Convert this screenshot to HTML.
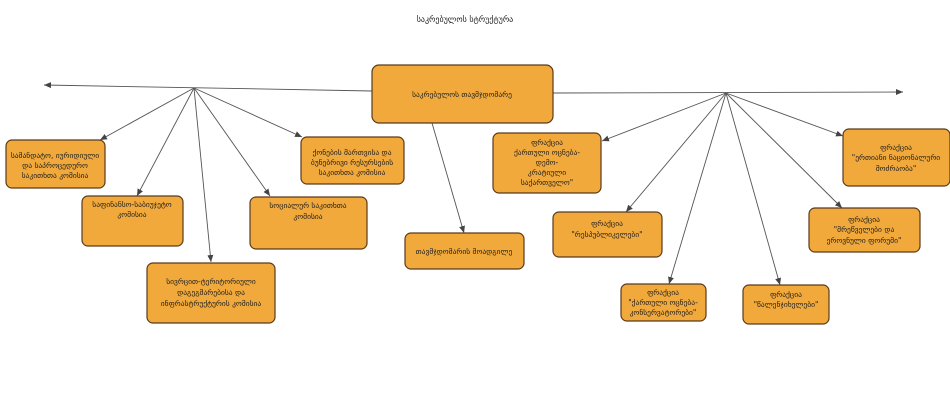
<!DOCTYPE html>
<html><head><meta charset="utf-8"><style>
body{margin:0;background:#fff}
text{font-family:"DejaVu Sans","Liberation Sans",sans-serif;font-size:7.5px;fill:#222;text-anchor:middle}
rect{fill:#f2a93b;stroke:#5a3a1c;stroke-width:1.2}
line{stroke:#555;stroke-width:0.9}
</style></head><body>
<svg width="950" height="400" viewBox="0 0 950 400" xmlns="http://www.w3.org/2000/svg">
<defs><marker id="a" markerWidth="8" markerHeight="8" refX="7" refY="4" orient="auto" markerUnits="userSpaceOnUse"><path d="M0,1 L7,4 L0,7z" fill="#444"/></marker></defs>
<text x="465" y="22" style="font-size:8px">საკრებულოს სტრუქტურა</text>
<line x1="372" y1="91" x2="44" y2="85" marker-end="url(#a)"/>
<line x1="553" y1="93" x2="903" y2="92" marker-end="url(#a)"/>
<line x1="194" y1="88" x2="100" y2="140" marker-end="url(#a)"/>
<line x1="194" y1="88" x2="137" y2="196" marker-end="url(#a)"/>
<line x1="194" y1="88" x2="211" y2="262" marker-end="url(#a)"/>
<line x1="194" y1="88" x2="270" y2="196" marker-end="url(#a)"/>
<line x1="194" y1="88" x2="302" y2="137" marker-end="url(#a)"/>
<line x1="432" y1="123" x2="464" y2="233" marker-end="url(#a)"/>
<line x1="726" y1="93" x2="602" y2="141" marker-end="url(#a)"/>
<line x1="726" y1="93" x2="626" y2="212" marker-end="url(#a)"/>
<line x1="726" y1="93" x2="669" y2="284" marker-end="url(#a)"/>
<line x1="726" y1="93" x2="780" y2="285" marker-end="url(#a)"/>
<line x1="726" y1="93" x2="842" y2="208" marker-end="url(#a)"/>
<line x1="726" y1="93" x2="843" y2="136" marker-end="url(#a)"/>

<rect x="372" y="65" width="181" height="58" rx="7"/>
<text x="462" y="97">საკრებულოს თავმჯდომარე</text>

<rect x="6" y="140" width="99" height="48" rx="6"/>
<text x="55" y="158">სამანდატო, იურიდიული</text><text x="55" y="168">და საპროცედურო</text><text x="55" y="178">საკითხთა კომისია</text>

<rect x="82" y="196" width="101" height="50" rx="6"/>
<text x="132" y="207">საფინანსო-საბიუჯეტო</text><text x="132" y="217">კომისია</text>

<rect x="147" y="263" width="128" height="60" rx="6"/>
<text x="211" y="284">სივრცით-ტერიტორიული</text><text x="211" y="295">დაგეგმარებისა და</text><text x="211" y="306">ინფრასტრუქტურის კომისია</text>

<rect x="250" y="197" width="117" height="52" rx="6"/>
<text x="308" y="208">სოციალურ საკითხთა</text><text x="308" y="219">კომისია</text>

<rect x="301" y="137" width="103" height="47" rx="6"/>
<text x="352" y="155">ქონების მართვისა და</text><text x="352" y="165">ბუნებრივი რესურსების</text><text x="352" y="175">საკითხთა კომისია</text>

<rect x="405" y="233" width="119" height="36" rx="6"/>
<text x="464" y="254">თავმჯდომარის მოადგილე</text>

<rect x="493" y="133" width="108" height="60" rx="6"/>
<text x="547" y="145">ფრაქცია</text><text x="547" y="155">ქართული ოცნება-</text><text x="547" y="165">დემო-</text><text x="547" y="175">კრატიული</text><text x="547" y="185">საქართველო"</text>

<rect x="553" y="212" width="109" height="45" rx="6"/>
<text x="607" y="226">ფრაქცია</text><text x="607" y="237">"რესპუბლიკელები"</text>

<rect x="621" y="284" width="85" height="37" rx="6"/>
<text x="663" y="295">ფრაქცია</text><text x="663" y="305">"ქართული ოცნება-</text><text x="663" y="315">კონსერვატორები"</text>

<rect x="743" y="285" width="86" height="39" rx="6"/>
<text x="786" y="297">ფრაქცია</text><text x="786" y="307">"წალენჯიხელები"</text>

<rect x="809" y="208" width="111" height="44" rx="6"/>
<text x="864" y="222">ფრაქცია</text><text x="864" y="232">"მრეწველები და</text><text x="864" y="243">ეროვნული ფორუმი"</text>

<rect x="843" y="129" width="107" height="57" rx="6"/>
<text x="896" y="150">ფრაქცია</text><text x="896" y="160">"ერთიანი ნაციონალური</text><text x="896" y="171">მოძრაობა"</text>
</svg>
</body></html>
